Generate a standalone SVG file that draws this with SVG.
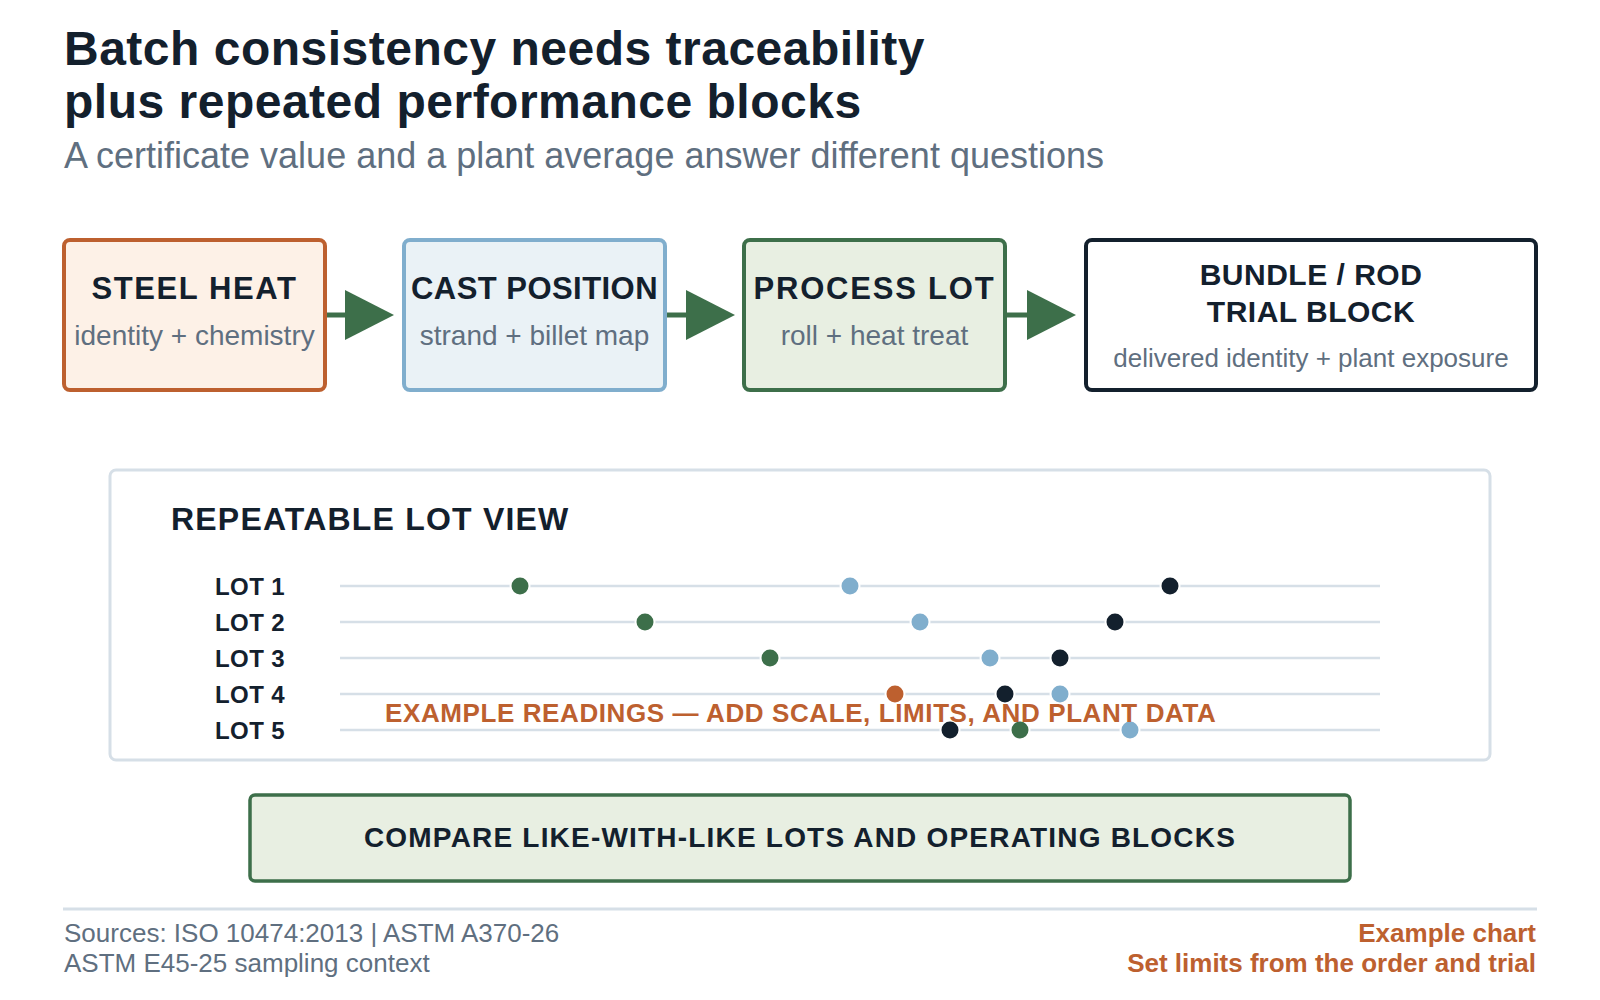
<svg xmlns="http://www.w3.org/2000/svg" width="1600" height="1000" viewBox="0 0 1600 1000">
<style>
  text { font-family: "Liberation Sans", Arial, sans-serif; }
  .title { font-size: 48px; font-weight: bold; fill: #13202d; letter-spacing: 0.5px; }
  .sub { font-size: 36px; fill: #5f6f80; }
  .nt { font-size: 31px; font-weight: bold; fill: #13202d; text-anchor: middle; letter-spacing: 1.6px; }
  .nt4 { font-size: 30px; font-weight: bold; fill: #13202d; text-anchor: middle; letter-spacing: 0.5px; }
  .ns { font-size: 28px; fill: #5f6f80; text-anchor: middle; }
  .ns4 { font-size: 26px; fill: #5f6f80; text-anchor: middle; }
  .ph { font-size: 32px; font-weight: bold; fill: #13202d; letter-spacing: 1.2px; }
  .lot { font-size: 24px; font-weight: bold; fill: #13202d; letter-spacing: 0.4px; }
  .row { stroke: #d6dfe7; stroke-width: 2.5; }
  .dot { stroke: #ffffff; stroke-width: 2; }
  .g { fill: #3d6f4a; } .b { fill: #80aecd; } .k { fill: #13202d; } .o { fill: #bd602f; }
  .note { font-size: 26px; font-weight: bold; fill: #bd602f; letter-spacing: 0.6px; }
  .cmp { font-size: 28px; font-weight: bold; fill: #13202d; text-anchor: middle; letter-spacing: 1.2px; }
  .fl { font-size: 26px; fill: #5f6f80; }
  .fr { font-size: 26px; font-weight: bold; fill: #bd602f; text-anchor: end; }
  .arrow line { stroke: #3d6f4a; stroke-width: 5; }
  .arrow polygon { fill: #3d6f4a; }
</style>
<rect x="0" y="0" width="1600" height="1000" fill="#ffffff"/>

<g id="header">
  <text class="title" x="64" y="65">Batch consistency needs traceability</text>
  <text class="title" x="64" y="118">plus repeated performance blocks</text>
  <text class="sub" x="64" y="168">A certificate value and a plant average answer different questions</text>
</g>

<g id="connectors" class="arrow">
  <line x1="325" y1="315" x2="348" y2="315"/>
  <polygon points="345,290 394,315 345,340"/>
  <line x1="665" y1="315" x2="689" y2="315"/>
  <polygon points="686,290 735,315 686,340"/>
  <line x1="1005" y1="315" x2="1030" y2="315"/>
  <polygon points="1027,290 1076,315 1027,340"/>
</g>

<g id="node-steel-heat">
  <rect x="64" y="240" width="261" height="150" rx="6" fill="#fdf1e7" stroke="#bd602f" stroke-width="4"/>
  <text class="nt" x="194.5" y="299">STEEL HEAT</text>
  <text class="ns" x="194.5" y="345">identity + chemistry</text>
</g>

<g id="node-cast-position">
  <rect x="404" y="240" width="261" height="150" rx="6" fill="#eaf2f6" stroke="#80aecd" stroke-width="4"/>
  <text class="nt" x="534.5" y="299" style="letter-spacing:0.45px">CAST POSITION</text>
  <text class="ns" x="534.5" y="345">strand + billet map</text>
</g>

<g id="node-process-lot">
  <rect x="744" y="240" width="261" height="150" rx="6" fill="#e8efe2" stroke="#3d6f4a" stroke-width="4"/>
  <text class="nt" x="874.5" y="299" style="letter-spacing:1.8px">PROCESS LOT</text>
  <text class="ns" x="874.5" y="345">roll + heat treat</text>
</g>

<g id="node-bundle-rod">
  <rect x="1086" y="240" width="450" height="150" rx="6" fill="#ffffff" stroke="#13202d" stroke-width="4"/>
  <text class="nt4" x="1311" y="285">BUNDLE / ROD</text>
  <text class="nt4" x="1311" y="322">TRIAL BLOCK</text>
  <text class="ns4" x="1311" y="367">delivered identity + plant exposure</text>
</g>

<g id="lot-view">
  <rect x="110" y="470" width="1380" height="290" rx="6" fill="#ffffff" stroke="#d6dfe7" stroke-width="3"/>
  <text class="ph" x="171" y="530">REPEATABLE LOT VIEW</text>
  <text class="lot" x="215" y="595">LOT 1</text>
  <text class="lot" x="215" y="631">LOT 2</text>
  <text class="lot" x="215" y="667">LOT 3</text>
  <text class="lot" x="215" y="703">LOT 4</text>
  <text class="lot" x="215" y="739">LOT 5</text>
  <line class="row" x1="340" y1="586" x2="1380" y2="586"/>
  <line class="row" x1="340" y1="622" x2="1380" y2="622"/>
  <line class="row" x1="340" y1="658" x2="1380" y2="658"/>
  <line class="row" x1="340" y1="694" x2="1380" y2="694"/>
  <line class="row" x1="340" y1="730" x2="1380" y2="730"/>
  <circle class="dot g" cx="520" cy="586" r="9.5"/>
  <circle class="dot b" cx="850" cy="586" r="9.5"/>
  <circle class="dot k" cx="1170" cy="586" r="9.5"/>
  <circle class="dot g" cx="645" cy="622" r="9.5"/>
  <circle class="dot b" cx="920" cy="622" r="9.5"/>
  <circle class="dot k" cx="1115" cy="622" r="9.5"/>
  <circle class="dot g" cx="770" cy="658" r="9.5"/>
  <circle class="dot b" cx="990" cy="658" r="9.5"/>
  <circle class="dot k" cx="1060" cy="658" r="9.5"/>
  <circle class="dot o" cx="895" cy="694" r="9.5"/>
  <circle class="dot k" cx="1005" cy="694" r="9.5"/>
  <circle class="dot b" cx="1060" cy="694" r="9.5"/>
  <circle class="dot k" cx="950" cy="730" r="9.5"/>
  <circle class="dot g" cx="1020" cy="730" r="9.5"/>
  <circle class="dot b" cx="1130" cy="730" r="9.5"/>
  <text class="note" x="385" y="722">EXAMPLE READINGS — ADD SCALE, LIMITS, AND PLANT DATA</text>
</g>

<g id="compare-box">
  <rect x="250" y="795" width="1100" height="86" rx="5" fill="#e8efe2" stroke="#3d6f4a" stroke-width="3.5"/>
  <text class="cmp" x="800" y="847">COMPARE LIKE-WITH-LIKE LOTS AND OPERATING BLOCKS</text>
</g>

<g id="footer">
  <line x1="63" y1="909" x2="1537" y2="909" stroke="#d6dfe7" stroke-width="3"/>
  <text class="fl" x="64" y="942">Sources: ISO 10474:2013 | ASTM A370-26</text>
  <text class="fl" x="64" y="972">ASTM E45-25 sampling context</text>
  <text class="fr" x="1536" y="942">Example chart</text>
  <text class="fr" x="1536" y="972">Set limits from the order and trial</text>
</g>
</svg>
